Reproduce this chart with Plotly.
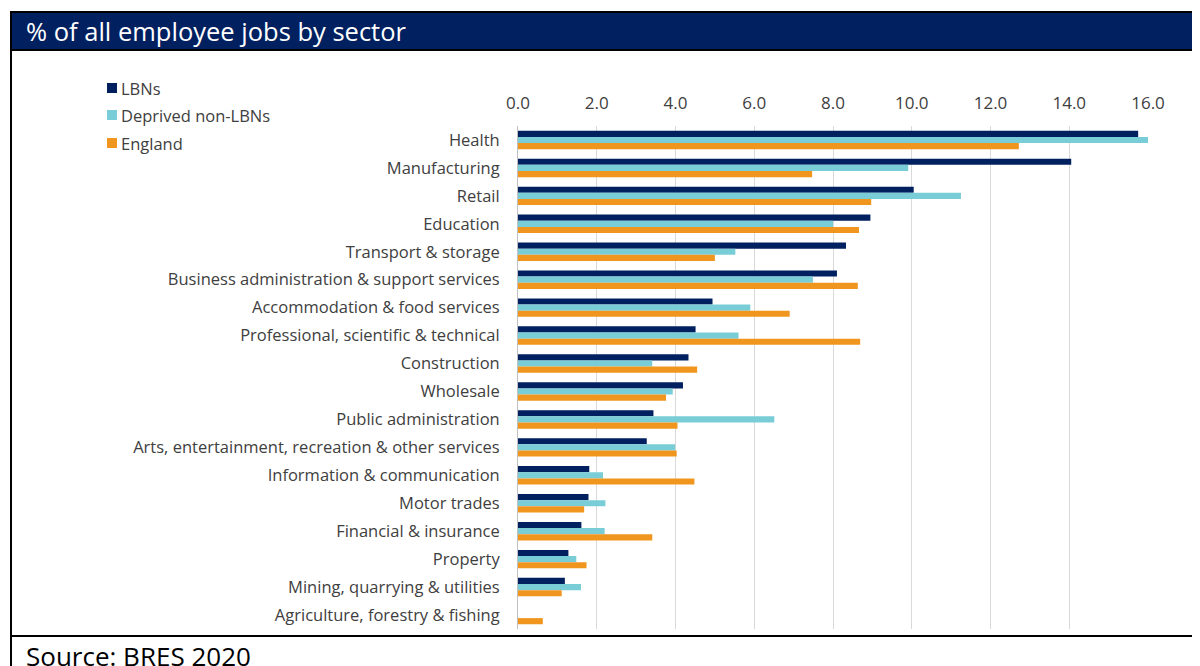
import plotly.graph_objects as go

categories = ["Health", "Manufacturing", "Retail", "Education", "Transport & storage",
              "Business administration & support services", "Accommodation & food services",
              "Professional, scientific & technical", "Construction", "Wholesale",
              "Public administration", "Arts, entertainment, recreation & other services",
              "Information & communication", "Motor trades", "Financial & insurance",
              "Property", "Mining, quarrying & utilities", "Agriculture, forestry & fishing"]
lbns = [15.75, 14.05, 10.05, 8.95, 8.33, 8.1, 4.94, 4.51, 4.33, 4.19, 3.44, 3.27, 1.81, 1.79, 1.61, 1.28, 1.19, 0.0]
deprived = [16.0, 9.91, 11.25, 8.0, 5.52, 7.49, 5.9, 5.6, 3.41, 3.93, 6.51, 3.99, 2.16, 2.22, 2.2, 1.48, 1.6, 0.0]
england = [12.72, 7.47, 8.97, 8.66, 5.0, 8.63, 6.9, 8.69, 4.55, 3.76, 4.05, 4.03, 4.48, 1.68, 3.41, 1.74, 1.11, 0.63]
x_ticks = [0, 2, 4, 6, 8, 10, 12, 14, 16]
x_tick_labels = ["0.0", "2.0", "4.0", "6.0", "8.0", "10.0", "12.0", "14.0", "16.0"]
series_names = ["LBNs", "Deprived non-LBNs", "England"]
colors = ["#002060", "#79CDD6", "#F0961E"]

# page has an 8px body margin; figure sized so it ends at the window edge
OFF = 8
W, H = 1200 - OFF, 666 - OFF
FONT = "Open Sans"
TXT = "#404040"

def px(x):
    return (x - OFF) / W

def py(y):
    return 1 - (y - OFF) / H

fig = go.Figure()
for name, vals, col in zip(series_names, [lbns, deprived, england], colors):
    fig.add_trace(go.Bar(y=categories, x=vals, name=name, orientation="h",
                         marker=dict(color=col, line=dict(width=0)), showlegend=False))

shapes = [
    dict(type="rect", xref="paper", yref="paper", x0=px(11), x1=px(1205), y0=py(50), y1=py(12),
         fillcolor="#002060", line=dict(color="black", width=2), layer="below"),
    dict(type="line", xref="paper", yref="paper", x0=px(11), x1=px(11), y0=py(12), y1=py(670),
         line=dict(color="black", width=2)),
    dict(type="line", xref="paper", yref="paper", x0=px(11), x1=px(1205), y0=py(636), y1=py(636),
         line=dict(color="black", width=2)),
]
annotations = [
    dict(text="% of all employee jobs by sector", xref="paper", yref="paper",
         x=px(24), y=py(31), xanchor="left", yanchor="middle", showarrow=False,
         font=dict(size=25.5, color="white", family=FONT)),
    dict(text="Source: BRES 2020", xref="paper", yref="paper",
         x=px(24), y=py(656), xanchor="left", yanchor="middle", showarrow=False,
         font=dict(size=26, color="black", family=FONT)),
]
# legend drawn as swatches + text
leg_y = [88, 115, 143]
for name, col, yy in zip(series_names, colors, leg_y):
    shapes.append(dict(type="rect", xref="paper", yref="paper", x0=px(107), x1=px(117),
                       y0=py(yy + 5), y1=py(yy - 5), fillcolor=col, line=dict(width=0)))
    annotations.append(dict(text=name, xref="paper", yref="paper", x=px(119), y=py(yy),
                            xanchor="left", yanchor="middle", showarrow=False,
                            font=dict(size=16.5, color=TXT, family=FONT)))

fig.update_layout(
    width=W, height=H,
    margin=dict(l=0, r=0, t=0, b=0),
    paper_bgcolor="white", plot_bgcolor="white",
    barmode="group", bargap=0.34, bargroupgap=0,
    font=dict(family=FONT, size=16.5, color=TXT),
    showlegend=False,
    xaxis=dict(domain=[px(518), px(1148)], range=[0, 16], side="top",
               tickvals=x_ticks, ticktext=x_tick_labels,
               showgrid=True, gridcolor="#D9D9D9", gridwidth=1,
               zeroline=False, showline=False, ticks="", automargin=False,
               ticklabelstandoff=13, tickfont=dict(size=17, color=TXT)),
    yaxis=dict(domain=[py(629), py(126)], autorange="reversed",
               showline=True, linecolor="#BFBFBF", linewidth=1,
               showgrid=False, ticks="", automargin=False,
               ticklabelstandoff=14, tickfont=dict(size=16.5, color=TXT)),
    shapes=shapes,
    annotations=annotations,
)

fig.write_html("out.html")
